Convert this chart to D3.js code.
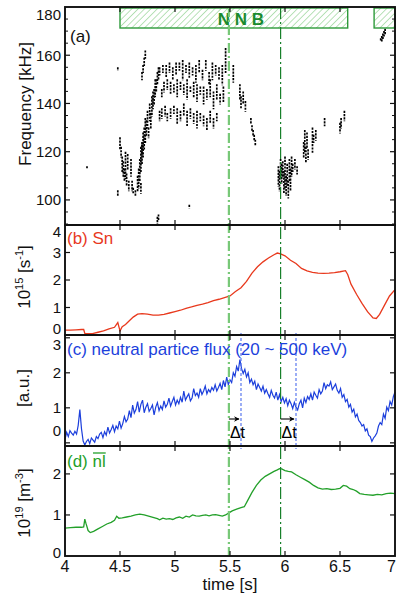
<!DOCTYPE html>
<html><head><meta charset="utf-8">
<script src="https://cdn.jsdelivr.net/npm/d3@7"></script>
<style>body{margin:0;background:#fff}svg{display:block;font-family:"Liberation Sans",Arial,sans-serif}</style>
</head><body><svg id="chart" width="397" height="599"></svg>
<script>
// ---------- data ----------
const xTicks = [4, 4.5, 5, 5.5, 6, 6.5, 7];
const xTickLabels = ["4", "4.5", "5", "5.5", "6", "6.5", "7"];
const freqTicks = [100, 120, 140, 160, 180];
const freqMinor = [90,95,105,110,115,125,130,135,145,150,155,165,170,175];
const snTicks = [0, 1, 2, 3, 4];
const nfTicks = [0, 1, 2, 3];
const nlTicks = [0, 1, 2];
const nbiStart = [4.5, 6.81];
const nbiEnd = [6.57, 7.0];
const markerTimes = [5.49, 5.96];
const delayTimes = [5.6, 6.1];

// spectrogram streaks: time, low freq, high freq (kHz)
const specT = [4.48,4.50,4.51,4.52,4.53,4.54,4.55,4.56,4.57,4.58,4.60,4.61,4.62,4.64,
  4.66,4.67,4.68,4.69,4.70,4.71,4.70,4.72,4.73,4.74,4.75,4.76,4.77,4.78,4.79,4.80,4.81,4.82,4.83,4.84,4.85,
  4.70,4.71,4.72,4.73,4.69,
  4.86,4.89,4.92,4.95,4.98,5.01,5.04,5.07,5.10,5.13,5.16,5.19,5.22,5.25,5.28,5.31,5.34,5.37,5.40,5.43,5.46,
  4.88,4.90,4.93,4.96,4.99,5.02,5.05,5.08,5.11,5.14,5.17,5.20,5.23,5.26,5.29,5.32,5.35,5.38,5.41,5.44,
  4.86,4.88,4.91,4.93,4.96,4.99,5.02,5.05,5.08,5.11,5.14,5.17,5.20,5.23,5.26,5.29,5.32,5.35,5.38,
  5.53,5.59,5.60,5.62,5.64,
  5.69,5.70,5.71,5.72,5.73,
  5.94,5.95,5.96,5.97,5.98,5.99,6.00,6.01,6.02,6.03,6.04,6.05,6.06,6.07,6.09,6.11,
  6.17,6.18,6.19,6.20,6.21,6.25,6.26,6.28,6.36,6.50,6.51,6.54,
  6.87,6.88,6.89,6.90,6.91,
  4.84,4.85,5.13,4.20,4.48];
const specLo = [102,121,118,112,110,108,109,106,113,104,110,104,103,102,
  104,105,108,112,115,118,119,121,124,127,130,126,133,130,135,138,140,143,145,148,150,
  150,153,156,159,103,
  152,153,151,153,150,152,154,150,153,151,152,149,153,150,154,148,150,152,150,148,153,
  143,145,146,144,145,143,146,144,142,145,143,141,144,140,142,143,138,142,140,141,
  133,134,135,133,134,136,132,133,135,131,134,132,130,133,131,129,132,130,133,
  149,142,138,140,137,
  132,129,127,125,123,
  106,104,109,107,110,103,105,102,106,101,108,104,110,112,113,111,
  118,120,116,122,117,120,124,125,131,128,130,133,
  166,166,167,168,169,
  90,92,97,113,154];
const specHi = [104,126,122,118,116,113,120,111,119,108,117,108,105,104,
  110,113,117,122,124,128,123,130,134,133,137,130,140,136,143,145,146,150,150,153,155,
  153,156,159,162,107,
  155,156,156,157,155,157,157,158,156,157,155,156,158,154,158,153,157,156,155,156,163,
  146,149,150,149,148,150,149,148,150,147,149,148,147,147,146,150,145,148,144,147,
  137,138,139,136,138,139,138,137,140,137,138,136,137,136,135,134,137,134,136,
  156,148,143,145,141,
  134,131,129,127,125,
  114,112,117,115,116,112,118,110,115,108,117,113,118,115,117,114,
  124,129,122,128,121,130,127,129,134,132,134,137,
  167,168,169,170,171,
  93,94,98,114,155];

// (b) neutron rate Sn [1e15 /s]
const snT = [4.00,4.05,4.10,4.15,4.17,4.18,4.25,4.30,4.35,4.40,4.45,4.48,4.50,4.52,4.55,4.58,4.62,4.66,4.70,4.75,4.80,4.85,4.90,4.95,
  5.00,5.05,5.10,5.15,5.20,5.25,5.30,5.35,5.40,5.45,5.50,5.55,5.60,5.65,5.70,5.75,5.80,5.85,5.90,5.93,5.96,
  6.00,6.05,6.10,6.15,6.20,6.25,6.30,6.35,6.40,6.45,6.50,6.55,6.57,6.60,6.65,6.70,6.75,6.80,6.83,6.86,6.90,6.95,7.00];
const snV = [0.18,0.18,0.19,0.20,0.20,0.06,0.05,0.10,0.15,0.22,0.28,0.45,0.15,0.30,0.38,0.50,0.65,0.76,0.78,0.76,0.72,0.72,0.75,0.80,
  0.85,0.90,0.97,1.02,1.08,1.12,1.18,1.25,1.30,1.36,1.42,1.58,1.72,1.95,2.25,2.48,2.66,2.80,2.92,2.98,2.95,
  2.88,2.72,2.60,2.42,2.33,2.28,2.25,2.24,2.25,2.27,2.30,2.34,2.20,1.85,1.48,1.15,0.85,0.62,0.60,0.75,1.05,1.42,1.65];

// (c) neutral particle flux [a.u.], sampled from 4 s every 15 ms
const nfStart = 4.0, nfStep = 0.015;
const nfV = [0.10,0.30,0.18,0.35,0.28,0.22,0.33,0.25,0.50,0.95,
  0.40,0.05,-0.06,0.04,0.10,-0.02,0.14,0.08,0.02,0.18,
  0.12,0.25,0.30,0.15,0.32,0.22,0.45,0.28,0.38,0.50,
  0.32,0.48,0.40,0.62,0.42,0.55,0.75,0.60,0.68,0.92,
  0.72,1.08,0.85,0.95,1.18,0.88,1.10,1.22,0.86,1.02,
  1.12,0.90,0.98,1.08,0.80,1.02,1.15,0.92,1.05,0.95,
  1.20,1.02,1.10,1.28,1.05,1.18,1.30,1.08,1.22,1.12,
  1.30,1.16,1.48,1.22,1.32,1.40,1.20,1.28,1.55,1.35,
  1.42,1.30,1.55,1.38,1.48,1.62,1.40,1.52,1.45,1.58,
  1.50,1.66,1.48,1.58,1.70,1.52,1.78,1.60,1.88,1.66,
  1.80,1.72,2.00,1.90,2.18,2.05,2.38,2.12,1.98,2.10,
  1.88,2.00,1.72,1.82,1.66,1.76,1.52,1.68,1.58,1.48,
  1.62,1.42,1.52,1.40,1.30,1.50,1.36,1.28,1.45,1.22,
  1.38,1.18,1.30,1.14,1.26,1.06,1.22,1.12,0.98,1.16,
  1.02,0.94,1.12,1.22,1.00,1.28,1.15,1.32,1.24,1.40,
  1.22,1.45,1.36,1.28,1.52,1.40,1.48,1.72,1.55,1.66,
  1.62,1.74,1.52,1.60,1.68,1.50,1.42,1.55,1.30,1.38,
  1.18,1.24,1.02,1.10,0.88,0.96,0.74,0.82,0.64,0.58,
  0.48,0.52,0.34,0.40,0.22,0.18,0.04,0.14,0.20,0.28,
  0.48,0.58,0.52,0.82,0.70,1.02,0.92,1.18,1.08,1.32,1.45];

// (d) line-averaged density [1e19 m^-3]
const nlT = [4.00,4.05,4.10,4.15,4.17,4.18,4.19,4.21,4.23,4.26,4.30,4.34,4.38,4.42,4.45,4.47,4.49,4.52,4.56,4.60,4.64,4.68,4.72,4.76,4.80,4.84,4.86,4.89,4.92,4.95,4.98,
  5.01,5.04,5.07,5.10,5.13,5.16,5.19,5.22,5.25,5.28,5.31,5.34,5.37,5.40,5.43,5.46,5.49,5.52,5.56,5.60,5.63,5.66,5.70,5.74,5.78,5.82,5.86,5.90,5.93,5.95,5.97,
  6.00,6.03,6.06,6.10,6.14,6.18,6.22,6.26,6.30,6.34,6.38,6.42,6.46,6.50,6.53,6.56,6.59,6.62,6.65,6.68,6.72,6.76,6.80,6.84,6.88,6.92,6.96,7.00];
const nlV = [0.68,0.69,0.70,0.70,0.71,0.90,0.80,0.62,0.57,0.60,0.66,0.72,0.78,0.82,0.87,0.97,0.92,0.93,0.95,0.97,1.00,1.02,1.00,0.97,0.94,0.91,0.88,0.92,0.90,0.91,0.89,
  0.93,0.95,0.92,0.97,0.95,1.00,0.98,0.97,0.99,1.00,0.98,1.00,1.01,0.99,0.97,1.00,1.05,1.10,1.14,1.18,1.20,1.35,1.55,1.72,1.85,1.94,2.00,2.06,2.10,2.13,2.12,
  2.08,2.06,2.05,1.98,1.92,1.86,1.80,1.72,1.66,1.63,1.64,1.62,1.63,1.65,1.72,1.70,1.64,1.62,1.58,1.52,1.50,1.49,1.48,1.50,1.49,1.52,1.53,1.52];

// ---------- layout ----------
const svg = d3.select("#chart");
const W = 397;
const X0 = 65, X1 = 395;
const P = {a:[7,225], b:[225,335], c:[335,446], d:[446,556]};
const RED = "#e8391d", BLUE = "#1c3fdc", GREEN = "#23a02a", DKGREEN = "#17802a", LTGREEN = "#78c878";

const x = d3.scaleLinear().domain([4,7]).range([X0,X1]);
const ya = d3.scaleLinear().domain([89.6,180]).range([P.a[1],P.a[0]]);
const yb = d3.scaleLinear().domain([0,4]).range([P.b[1],P.b[0]]);
const yc = d3.scaleLinear().domain([-0.09,3.08]).range([P.c[1],P.c[0]]);
const yd = d3.scaleLinear().domain([0,2.68]).range([P.d[1],P.d[0]]);

// hatch pattern
const defs = svg.append("defs");
const pat = defs.append("pattern").attr("id","hatch").attr("patternUnits","userSpaceOnUse")
  .attr("width",4.5).attr("height",4.5).attr("patternTransform","rotate(45)");
pat.append("line").attr("x1",0).attr("y1",0).attr("x2",0).attr("y2",4.5)
  .attr("stroke","#7fca7f").attr("stroke-width",1.1);
const mk = defs.append("marker").attr("id","arr").attr("viewBox","0 0 10 10").attr("refX",9).attr("refY",5)
  .attr("markerWidth",5).attr("markerHeight",5).attr("orient","auto");
mk.append("path").attr("d","M0,0 L10,5 L0,10 L3,5 Z").attr("fill","#000");

// spectrogram (dotted streaks)
svg.append("g").selectAll("line").data(specT).join("line")
  .attr("x1",d=>x(d)).attr("x2",d=>x(d))
  .attr("y1",(d,i)=>ya(specHi[i])).attr("y2",(d,i)=>ya(specLo[i])+1)
  .attr("stroke","#000").attr("stroke-width",1.7).attr("stroke-dasharray","2.2,1.1");

// NBI boxes
const nbi = svg.append("g");
nbiStart.forEach((s,i)=>{
  nbi.append("rect").attr("x",x(s)).attr("y",P.a[0]+1).attr("width",x(nbiEnd[i])-x(s)).attr("height",20)
    .attr("fill","url(#hatch)").attr("stroke","#2d9a3a").attr("stroke-width",1.4);
});
nbi.append("text").attr("x",241).attr("y",25).attr("text-anchor","middle").attr("font-size",17)
  .attr("font-weight","bold").attr("fill","#1a8a2e").text("N N B");

// curves
const lineB = d3.line().x((d,i)=>x(snT[i])).y(d=>yb(d));
svg.append("path").datum(snV).attr("d",lineB).attr("fill","none").attr("stroke",RED).attr("stroke-width",1.3);
const lineC = d3.line().x((d,i)=>x(nfStart+i*nfStep)).y(d=>yc(d));
svg.append("path").datum(nfV).attr("d",lineC).attr("fill","none").attr("stroke",BLUE).attr("stroke-width",1.2);
const lineD = d3.line().x((d,i)=>x(nlT[i])).y(d=>yd(d));
svg.append("path").datum(nlV).attr("d",lineD).attr("fill","none").attr("stroke",GREEN).attr("stroke-width",1.3);

// marker lines
svg.append("line").attr("x1",x(markerTimes[0])).attr("x2",x(markerTimes[0])).attr("y1",P.a[0]).attr("y2",P.d[1])
  .attr("stroke",LTGREEN).attr("stroke-width",2.2).attr("stroke-dasharray","10,3,2,3");
svg.append("line").attr("x1",x(markerTimes[1])).attr("x2",x(markerTimes[1])).attr("y1",P.a[0]).attr("y2",P.d[1])
  .attr("stroke",DKGREEN).attr("stroke-width",1.2).attr("stroke-dasharray","12,3,2,3");
delayTimes.forEach(t=>{
  svg.append("line").attr("x1",x(t)).attr("x2",x(t)).attr("y1",P.c[0]-2).attr("y2",P.c[1]+3)
    .attr("stroke","#5a78ee").attr("stroke-width",1.2).attr("stroke-dasharray","3,2");
});
// delta-t arrows
markerTimes.forEach((t,i)=>{
  svg.append("line").attr("x1",x(t)).attr("x2",x(delayTimes[i])-2).attr("y1",419).attr("y2",419)
    .attr("stroke","#000").attr("stroke-width",1.1).attr("marker-end","url(#arr)");
  svg.append("text").attr("x",x(t)+1).attr("y",438).attr("font-size",16).attr("fill","#000").text("Δt");
});

// frames & ticks
const panels = [
  {k:"a", y:ya, ticks:freqTicks, minor:freqMinor, lo:8, hi:0},
  {k:"b", y:yb, ticks:snTicks, minor:[], lo:7, hi:6},
  {k:"c", y:yc, ticks:nfTicks, minor:[], lo:10, hi:15},
  {k:"d", y:yd, ticks:nlTicks, minor:[], lo:6, hi:3},
];
const fr = svg.append("g");
panels.forEach(p=>{
  const [t,b] = P[p.k];
  fr.append("rect").attr("x",X0).attr("y",t).attr("width",X1-X0).attr("height",b-t)
    .attr("fill","none").attr("stroke","#111").attr("stroke-width",1.9);
  xTicks.slice(1,-1).forEach(v=>{
    fr.append("line").attr("x1",x(v)).attr("x2",x(v)).attr("y1",t).attr("y2",t+5).attr("stroke","#111").attr("stroke-width",1.2);
    fr.append("line").attr("x1",x(v)).attr("x2",x(v)).attr("y1",b).attr("y2",b-5).attr("stroke","#111").attr("stroke-width",1.2);
  });
  p.ticks.forEach(v=>{
    const yy = p.y(v);
    if (yy>t+1 && yy<b-1){
      fr.append("line").attr("x1",X0).attr("x2",X0+5).attr("y1",yy).attr("y2",yy).attr("stroke","#111").attr("stroke-width",1.2);
      fr.append("line").attr("x1",X1).attr("x2",X1-5).attr("y1",yy).attr("y2",yy).attr("stroke","#111").attr("stroke-width",1.2);
    }
    const ly = Math.max(t+p.lo, Math.min(b-p.hi, yy));
    fr.append("text").attr("x",61).attr("y",ly).attr("dy","0.36em").attr("text-anchor","end")
      .attr("font-size",15).attr("fill","#111").text(v);
  });
  p.minor.forEach(v=>{
    const yy = p.y(v);
    fr.append("line").attr("x1",X0).attr("x2",X0+3).attr("y1",yy).attr("y2",yy).attr("stroke","#111").attr("stroke-width",1);
    fr.append("line").attr("x1",X1).attr("x2",X1-3).attr("y1",yy).attr("y2",yy).attr("stroke","#111").attr("stroke-width",1);
  });
});
// x tick labels (kept inside the page)
xTicks.forEach((v,i)=>{
  const tx = svg.append("text").attr("x",x(v)).attr("y",572).attr("text-anchor","middle").attr("font-size",16)
    .attr("fill","#111").text(xTickLabels[i]);
  const w = tx.node().getComputedTextLength();
  if (x(v) + w/2 > W - 1) tx.attr("x", W - 1 - w/2);
});
svg.append("text").attr("x",(X0+X1)/2).attr("y",590).attr("text-anchor","middle").attr("font-size",17)
  .attr("fill","#111").text("time [s]");

// y titles
function ytitle(cx, cy, parts){
  const t = svg.append("text").attr("transform",`translate(${cx},${cy}) rotate(-90)`)
    .attr("text-anchor","middle").attr("font-size",17).attr("fill","#111");
  parts.forEach(p=>{
    t.append("tspan").attr("font-size",p.sup?11:17).attr("dy",p.dy||0).text(p.s);
  });
}
ytitle(31,104,[{s:"Frequency [kHz]"}]);
ytitle(30,277,[{s:"10"},{s:"15",sup:1,dy:-7},{s:" [s",dy:7},{s:"-1",sup:1,dy:-7},{s:"]",dy:7}]);
ytitle(29,388,[{s:"[a.u.]"}]);
ytitle(30,503,[{s:"10"},{s:"19",sup:1,dy:-7},{s:" [m",dy:7},{s:"-3",sup:1,dy:-7},{s:"]",dy:7}]);

// panel labels
svg.append("text").attr("x",70).attr("y",42).attr("font-size",17).attr("fill","#111").text("(a)");
svg.append("text").attr("x",67).attr("y",244).attr("font-size",17).attr("fill",RED).text("(b) Sn");
svg.append("text").attr("x",67).attr("y",355).attr("font-size",17).attr("fill",BLUE).text("(c) neutral partice flux (20 ~ 500 keV)");
const dl = svg.append("text").attr("x",67).attr("y",467).attr("font-size",17).attr("fill",GREEN);
dl.append("tspan").text("(d) ");
const nlSpan = dl.append("tspan").text("nl");
const bb = nlSpan.node().getBBox();
svg.append("line").attr("x1",bb.x+0.5).attr("x2",bb.x+bb.width).attr("y1",bb.y+1).attr("y2",bb.y+1)
  .attr("stroke",GREEN).attr("stroke-width",1.3);
</script></body></html>
